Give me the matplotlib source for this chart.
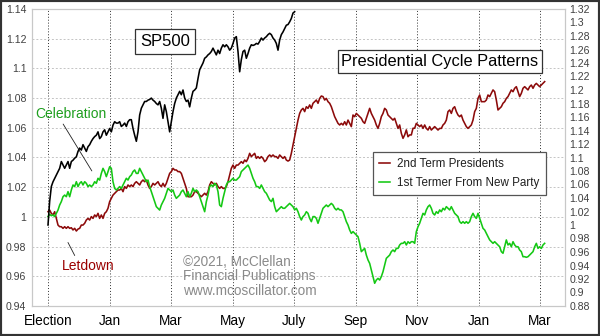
import numpy as np
import matplotlib
matplotlib.use("Agg")
import matplotlib.pyplot as plt
from matplotlib.lines import Line2D
from matplotlib.patches import Rectangle

plt.rcParams['font.family'] = ['Liberation Sans', 'DejaVu Sans']

# ---- data -------------------------------------------------------------
month_ticks = [0, 2, 4, 6, 8, 10, 12, 14, 16]
month_labels = ["Election", "Jan", "Mar", "May", "July", "Sep", "Nov", "Jan", "Mar"]

SESSIONS_PER_MONTH = 18.45

# S&P 500 since election, normalised to 1.0 (right scale)
sp500 = [
    1.000, 1.035, 1.057, 1.064, 1.069, 1.074, 1.079, 1.084, 1.094, 1.089,
    1.084, 1.089, 1.094, 1.084, 1.094, 1.096, 1.099, 1.101, 1.109, 1.114,
    1.111, 1.119, 1.114, 1.109, 1.116, 1.119, 1.124, 1.128, 1.131, 1.133,
    1.138, 1.128, 1.131, 1.138, 1.141, 1.133, 1.138, 1.143, 1.138, 1.148,
    1.153, 1.151, 1.151, 1.153, 1.146, 1.148, 1.151, 1.146, 1.153, 1.156,
    1.156, 1.143, 1.133, 1.124, 1.138, 1.163, 1.173, 1.178, 1.183, 1.183,
    1.185, 1.186, 1.188, 1.185, 1.183, 1.180, 1.178, 1.183, 1.173, 1.158,
    1.178, 1.168, 1.153, 1.138, 1.153, 1.168, 1.180, 1.188, 1.193, 1.198,
    1.193, 1.200, 1.188, 1.183, 1.185, 1.175, 1.188, 1.198, 1.200, 1.203,
    1.217, 1.230, 1.235, 1.240, 1.247, 1.249, 1.252, 1.254, 1.257, 1.262,
    1.257, 1.252, 1.259, 1.254, 1.262, 1.267, 1.264, 1.267, 1.264, 1.259,
    1.262, 1.269, 1.277, 1.279, 1.257, 1.227, 1.245, 1.257, 1.259, 1.247,
    1.254, 1.262, 1.267, 1.266, 1.267, 1.269, 1.268, 1.272, 1.277, 1.274,
    1.277, 1.279, 1.282, 1.284, 1.282, 1.277, 1.274, 1.269, 1.259, 1.274,
    1.282, 1.286, 1.291, 1.296, 1.297, 1.301, 1.306, 1.314, 1.316,
]

# average path, 2nd term presidents (left scale)
second_term = [
    1.0035, 1.0046, 1.0024, 1.0013, 1.0035, 0.9990, 0.9945, 0.9934, 0.9934, 0.9923,
    0.9934, 0.9923, 0.9934, 0.9923, 0.9927, 0.9912, 0.9923, 0.9905, 0.9918, 0.9923,
    0.9945, 0.9945, 0.9957, 0.9979, 0.9990, 0.9979, 1.0002, 0.9990, 1.0013, 1.0002,
    1.0024, 0.9990, 1.0013, 0.9990, 1.0024, 1.0035, 1.0058, 1.0103, 1.0125, 1.0147,
    1.0159, 1.0170, 1.0181, 1.0181, 1.0192, 1.0170, 1.0204, 1.0192, 1.0215, 1.0204,
    1.0215, 1.0204, 1.0226, 1.0237, 1.0226, 1.0215, 1.0237, 1.0248, 1.0237, 1.0248,
    1.0215, 1.0192, 1.0204, 1.0226, 1.0215, 1.0226, 1.0237, 1.0215, 1.0204, 1.0226,
    1.0204, 1.0226, 1.0260, 1.0293, 1.0305, 1.0327, 1.0316, 1.0316, 1.0305, 1.0305,
    1.0293, 1.0260, 1.0226, 1.0192, 1.0136, 1.0136, 1.0136, 1.0147, 1.0170, 1.0170,
    1.0159, 1.0147, 1.0136, 1.0147, 1.0159, 1.0147, 1.0170, 1.0215, 1.0237, 1.0226,
    1.0215, 1.0226, 1.0204, 1.0192, 1.0204, 1.0192, 1.0192, 1.0204, 1.0237, 1.0282,
    1.0327, 1.0349, 1.0327, 1.0349, 1.0349, 1.0361, 1.0372, 1.0361, 1.0383, 1.0372,
    1.0394, 1.0428, 1.0406, 1.0417, 1.0428, 1.0394, 1.0406, 1.0394, 1.0406, 1.0394,
    1.0372, 1.0383, 1.0406, 1.0417, 1.0406, 1.0417, 1.0406, 1.0406, 1.0394, 1.0417,
    1.0406, 1.0394, 1.0406, 1.0383, 1.0376,
    1.0383, 1.0428, 1.0484, 1.0540, 1.0596, 1.0652, 1.0697, 1.0720, 1.0731, 1.0709,
    1.0742, 1.0731, 1.0754, 1.0731, 1.0765, 1.0776, 1.0787, 1.0765, 1.0798, 1.0814,
    1.0810, 1.0787, 1.0798, 1.0776, 1.0765, 1.0742, 1.0709, 1.0675, 1.0652, 1.0630,
    1.0619, 1.0630, 1.0619, 1.0641, 1.0619, 1.0652, 1.0630, 1.0608, 1.0686, 1.0675,
    1.0697, 1.0686, 1.0675, 1.0664, 1.0641, 1.0630, 1.0664, 1.0697, 1.0731, 1.0697,
    1.0675, 1.0652, 1.0619, 1.0596, 1.0630, 1.0675, 1.0697, 1.0731, 1.0720, 1.0686,
    1.0675, 1.0664, 1.0652, 1.0664, 1.0630, 1.0596, 1.0619, 1.0563, 1.0529, 1.0552,
    1.0586, 1.0540, 1.0552, 1.0552, 1.0597, 1.0597, 1.0630, 1.0619, 1.0608, 1.0619,
    1.0596,
    1.0619, 1.0596, 1.0585, 1.0608, 1.0585, 1.0596, 1.0608, 1.0596, 1.0585, 1.0596,
    1.0596, 1.0619, 1.0630, 1.0652, 1.0709, 1.0720, 1.0697, 1.0731, 1.0742, 1.0709,
    1.0686, 1.0675, 1.0686, 1.0652, 1.0630, 1.0608, 1.0596, 1.0608, 1.0619, 1.0652,
    1.0709, 1.0731, 1.0798, 1.0821, 1.0776, 1.0776, 1.0776, 1.0787, 1.0821, 1.0810,
    1.0832, 1.0855, 1.0843, 1.0787, 1.0720, 1.0731, 1.0742, 1.0765, 1.0776, 1.0798,
    1.0810, 1.0832, 1.0855, 1.0843, 1.0866, 1.0877, 1.0843, 1.0810, 1.0832, 1.0866,
    1.0877, 1.0866, 1.0855, 1.0877, 1.0888, 1.0866, 1.0888, 1.0899, 1.0888, 1.0877,
    1.0888, 1.0899, 1.0911,
]

# average path, 1st termer from new party (left scale)
first_term_new_party = [
    1.0002, 1.0017, 1.0008, 1.0013, 1.0002, 1.0024, 1.0046, 1.0080, 1.0103, 1.0136,
    1.0147, 1.0136, 1.0170, 1.0136, 1.0181, 1.0215, 1.0204, 1.0237, 1.0204, 1.0226,
    1.0237, 1.0215, 1.0237, 1.0226, 1.0204, 1.0215, 1.0204, 1.0215, 1.0237, 1.0226,
    1.0260, 1.0248, 1.0293, 1.0327, 1.0305, 1.0271, 1.0305, 1.0338, 1.0327, 1.0237,
    1.0192, 1.0181, 1.0192, 1.0204, 1.0192, 1.0215, 1.0237, 1.0260, 1.0248, 1.0271,
    1.0282, 1.0305, 1.0316, 1.0293, 1.0293, 1.0327, 1.0305, 1.0282, 1.0260, 1.0237,
    1.0248, 1.0204, 1.0170, 1.0136, 1.0103, 1.0069, 1.0058, 1.0046, 1.0080, 1.0103,
    1.0125, 1.0159, 1.0192, 1.0181, 1.0170, 1.0181, 1.0147, 1.0125, 1.0136, 1.0147,
    1.0170, 1.0181, 1.0159, 1.0136, 1.0170, 1.0136, 1.0159, 1.0192, 1.0170, 1.0181,
    1.0170, 1.0136, 1.0103, 1.0069, 1.0035, 1.0103, 1.0147, 1.0204, 1.0215, 1.0204,
    1.0226, 1.0215, 1.0170, 1.0080, 1.0069, 1.0125, 1.0170, 1.0215, 1.0237, 1.0237,
    1.0248, 1.0260, 1.0248, 1.0248, 1.0260, 1.0271, 1.0305, 1.0316, 1.0327, 1.0338,
    1.0349, 1.0327, 1.0293, 1.0260, 1.0237, 1.0204, 1.0204, 1.0192, 1.0215, 1.0192,
    1.0170, 1.0159, 1.0136, 1.0114, 1.0103, 1.0125, 1.0069, 1.0035, 1.0046, 1.0058,
    1.0069, 1.0058, 1.0058, 1.0069, 1.0080,
    1.0091, 1.0080, 1.0069, 1.0047, 1.0058, 1.0035, 1.0002, 0.9979, 1.0002, 1.0013,
    1.0035, 1.0024, 0.9990, 0.9968, 1.0002, 1.0002, 0.9990, 0.9957, 0.9990, 1.0024,
    1.0058, 1.0069, 1.0080, 1.0069, 1.0080, 1.0091, 1.0080, 1.0058, 1.0047, 1.0058,
    1.0047, 1.0047, 1.0035, 1.0002, 0.9968, 0.9945, 0.9912, 0.9889, 0.9901, 0.9889,
    0.9878, 0.9867, 0.9822, 0.9766, 0.9777, 0.9788, 0.9743, 0.9710, 0.9687, 0.9642,
    0.9598, 0.9553, 0.9575, 0.9586, 0.9575, 0.9598, 0.9631, 0.9676, 0.9721, 0.9732,
    0.9743, 0.9766, 0.9777, 0.9766, 0.9788, 0.9788, 0.9811, 0.9822, 0.9822, 0.9833,
    0.9811, 0.9833, 0.9822, 0.9833, 0.9833, 0.9822, 0.9901, 0.9934, 0.9957, 0.9990,
    1.0024,
    1.0013, 1.0047, 1.0069, 1.0080, 1.0058, 1.0024, 1.0013, 1.0035, 1.0024, 1.0047,
    1.0035, 1.0058, 1.0047, 1.0069, 1.0058, 1.0047, 1.0069, 1.0047, 1.0024, 1.0013,
    1.0002, 0.9968, 0.9957, 0.9968, 0.9957, 0.9968, 0.9957, 0.9968, 1.0002, 1.0024,
    1.0002, 0.9990, 1.0024, 0.9990, 0.9957, 0.9923, 0.9912, 0.9889, 0.9867, 0.9845,
    0.9833, 0.9822, 0.9833, 0.9822, 0.9811, 0.9799, 0.9766, 0.9755, 0.9799, 0.9845,
    0.9811, 0.9822, 0.9799, 0.9833, 0.9811, 0.9799, 0.9799, 0.9777, 0.9766, 0.9732,
    0.9732, 0.9728, 0.9732, 0.9743, 0.9755, 0.9766, 0.9799, 0.9822, 0.9788, 0.9799,
    0.9788, 0.9811, 0.9822,
]

left_ticks = np.round(np.arange(0.94, 1.1401, 0.02), 2)
right_ticks = np.round(np.arange(0.88, 1.3201, 0.02), 2)

# ---- figure -----------------------------------------------------------
W, H = 600, 336
fig = plt.figure(figsize=(W / 100, H / 100), dpi=100)
fig.patch.set_facecolor("white")

L, R, T, B = 32, 565, 9, 306
ax = fig.add_axes([L / W, 1 - B / H, (R - L) / W, (B - T) / H])
px_per_month = 30.75
x0_px = 48
ax.set_xlim((L - x0_px) / px_per_month, (R - x0_px) / px_per_month)
ax.set_ylim(0.94, 1.14)

ax2 = ax.twinx()
ax2.set_ylim(0.88, 1.32)

RED = "#8c0a0a"
GREEN = "#14c814"

x_cycle = np.arange(len(second_term)) / SESSIONS_PER_MONTH
x_green = np.arange(len(first_term_new_party)) / SESSIONS_PER_MONTH
x_sp = np.arange(len(sp500)) / SESSIONS_PER_MONTH

l_red, = ax.plot(x_cycle, second_term, color=RED, lw=1.15, zorder=3)
l_green, = ax.plot(x_green, first_term_new_party, color=GREEN, lw=1.15, zorder=3)
ax2.plot(x_sp, sp500, color="black", lw=1.15, zorder=3)

# axes styling
for a in (ax, ax2):
    for s in a.spines.values():
        s.set_color("#c8c8c8")
        s.set_linewidth(0.8)

ax.set_yticks(left_ticks)
ax.set_yticklabels([f"{v:g}" for v in left_ticks])
ax2.set_yticks(right_ticks)
ax2.set_yticklabels([f"{v:g}" for v in right_ticks])
ax.set_xticks(month_ticks)
ax.set_xticklabels(month_labels)

ax.tick_params(axis="y", length=0, pad=4, labelsize=7.6, labelcolor="#404040")
ax2.tick_params(axis="y", length=0, pad=3, labelsize=7.6, labelcolor="#404040")
ax.tick_params(axis="x", length=0, pad=6, labelsize=9.8, labelcolor="black")

ax.yaxis.grid(True, color="#c4c4c4", linestyle=(0, (2, 2)), linewidth=0.7)
ax.xaxis.grid(True, color="#303030", linestyle=(0, (1, 2)), linewidth=0.7)
ax.set_axisbelow(True)

# title boxes
ax2.text((165 - x0_px) / px_per_month, 1.32 - (41 - T) * 0.44 / (B - T), "SP500",
         fontsize=12, ha="center", va="center", color="black", zorder=5,
         bbox=dict(boxstyle="square,pad=0.3", fc="white", ec="#333333", lw=0.9))
ax2.text((440 - x0_px) / px_per_month, 1.32 - (61.5 - T) * 0.44 / (B - T),
         "Presidential Cycle Patterns",
         fontsize=11.8, ha="center", va="center", color="black", zorder=5,
         bbox=dict(boxstyle="square,pad=0.22", fc="white", ec="#333333", lw=0.9))

# legend
leg = ax2.legend([l_red, l_green], ["2nd Term Presidents", "1st Termer From New Party"],
                 loc="upper left", bbox_to_anchor=(373 / W, 1 - 152 / H),
                 bbox_transform=fig.transFigure, borderaxespad=0,
                 fontsize=8.4, frameon=True, fancybox=False, framealpha=1,
                 edgecolor="#555555", handlelength=0.9, handletextpad=0.6,
                 borderpad=0.55, labelspacing=0.55)
leg.get_frame().set_linewidth(0.9)
for t in leg.get_texts():
    t.set_color("#202020")


def px_to_data(px, py):
    return (px - x0_px) / px_per_month, 1.14 - (py - T) * 0.2 / (B - T)


# annotations
ax.annotate("", xy=px_to_data(93.3, 173.3), xytext=px_to_data(61.7, 121.7),
            arrowprops=dict(arrowstyle="-", color="#202020", lw=0.6), zorder=4)
ax.text(*px_to_data(71, 114), "Celebration", color="#1e9e1e", fontsize=10,
        ha="center", va="center", zorder=4)
ax.annotate("", xy=px_to_data(76, 258), xytext=px_to_data(66.7, 240),
            arrowprops=dict(arrowstyle="-", color="#202020", lw=0.6), zorder=4)
ax.text(*px_to_data(88, 266.5), "Letdown", color="#9a0000", fontsize=10,
        ha="center", va="center", zorder=4)

# copyright notice
for i, line in enumerate(["\u00a92021, McClellan", "Financial Publications",
                          "www.mcoscillator.com"]):
    fig.text(183 / W, 1 - (261.7 + 14.5 * i) / H, line, color="#8a8a8a",
             fontsize=9.8, ha="left", va="center", zorder=6)

# outer frame
fig.patches.append(Rectangle((0, 0), 1, 1, transform=fig.transFigure, fill=False,
                             edgecolor="#333333", linewidth=3, zorder=10))

fig.savefig("out.png", dpi=100)
